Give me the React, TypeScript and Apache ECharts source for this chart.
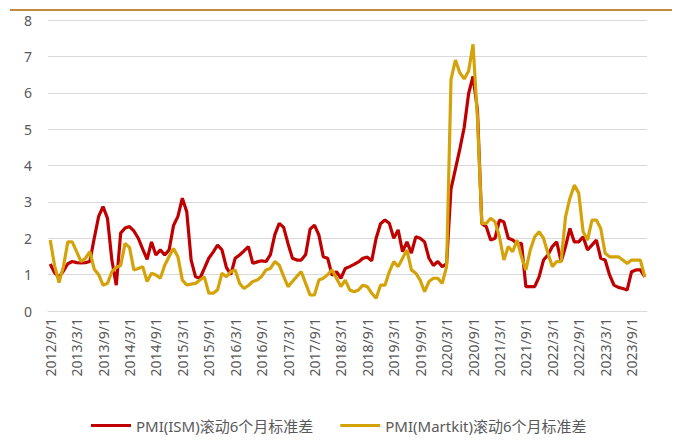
import React, { useEffect, useRef } from "react";
import * as echarts from "echarts";

// Monthly categories 2012/9/1 .. 2023/12/1
const startYear = 2012;
const startMonth = 9;
const monthCount = 136;
const months: string[] = [];
for (let k = 0; k < monthCount; k++) {
  const m = startMonth - 1 + k;
  months.push(`${startYear + Math.floor(m / 12)}/${(m % 12) + 1}/1`);
}

const ismName = "PMI(ISM)滚动6个月标准差";
const markitName = "PMI(Martkit)滚动6个月标准差";

const ismStd = [
  1.29, 1.05, 0.93, 1.1, 1.3, 1.36, 1.33, 1.32, 1.33, 1.36,
  2.0, 2.6, 2.87, 2.55, 1.4, 0.71, 2.14, 2.28, 2.32, 2.2,
  2.0, 1.7, 1.42, 1.9, 1.54, 1.68, 1.54, 1.68, 2.35, 2.6,
  3.1, 2.73, 1.4, 0.94, 0.9, 1.17, 1.45, 1.62, 1.81, 1.68,
  1.2, 1.0, 1.45, 1.54, 1.65, 1.77, 1.31, 1.35, 1.38, 1.36,
  1.55, 2.1, 2.41, 2.3, 1.85, 1.45, 1.4, 1.4, 1.55, 2.25,
  2.36, 2.09, 1.49, 1.45, 0.98, 1.08, 0.9, 1.17, 1.22, 1.28,
  1.35, 1.45, 1.48, 1.38, 2.0, 2.4, 2.5, 2.41, 2.0, 2.23,
  1.63, 1.9, 1.59, 2.04, 2.0, 1.9, 1.45, 1.25, 1.36, 1.22,
  1.3, 3.36, 3.9, 4.45, 5.05, 5.98, 6.45, 5.53, 2.4, 2.32,
  1.95, 2.0, 2.5, 2.45, 2.0, 1.95, 1.86, 1.86, 0.67, 0.67,
  0.67, 0.94, 1.4, 1.54, 1.77, 1.9, 1.36, 1.77, 2.27, 1.9,
  1.9, 2.04, 1.68, 1.81, 1.95, 1.45, 1.4, 0.99, 0.71, 0.65,
  0.62, 0.58, 1.08, 1.13, 1.13, 0.94,
];

const markitStd = [
  1.95, 1.25, 0.78, 1.22, 1.9, 1.9, 1.63, 1.36, 1.45, 1.63,
  1.15, 1.0, 0.71, 0.76, 1.08, 1.2, 1.25, 1.86, 1.75, 1.13,
  1.17, 1.22, 0.81, 1.04, 0.99, 0.9, 1.26, 1.5, 1.72, 1.49,
  0.85, 0.72, 0.74, 0.76, 0.85, 0.94, 0.49, 0.49, 0.58, 1.04,
  0.94, 1.08, 1.13, 0.76, 0.62, 0.7, 0.81, 0.85, 0.95, 1.13,
  1.17, 1.36, 1.26, 0.95, 0.67, 0.81, 0.95, 1.08, 0.76, 0.44,
  0.44, 0.85, 0.9, 1.0, 1.13, 0.9, 0.67, 0.85, 0.58, 0.53,
  0.58, 0.71, 0.67, 0.49, 0.35, 0.71, 0.71, 1.08, 1.36, 1.22,
  1.45, 1.68, 1.13, 1.04, 0.85, 0.53, 0.81, 0.9, 0.9, 0.76,
  1.22, 6.36, 6.9, 6.55, 6.38, 6.6, 7.33, 5.3, 2.41, 2.41,
  2.55, 2.45, 2.04, 1.4, 1.77, 1.63, 1.95, 1.49, 1.13, 1.68,
  2.04, 2.18, 2.0, 1.59, 1.22, 1.36, 1.36, 2.59, 3.1, 3.46,
  3.24, 2.18, 1.95, 2.5, 2.5, 2.27, 1.59, 1.49, 1.49, 1.49,
  1.4, 1.31, 1.4, 1.4, 1.4, 0.94,
];

const yMin = 0;
const yMax = 8;
const yStep = 1;

const textColor = "#595959";
const gridColor = "#d9d9d9";
const font = "'Noto Sans', 'Noto Sans CJK SC', sans-serif";

export default function App() {
  const ref = useRef<HTMLDivElement>(null);
  useEffect(() => {
    if (!ref.current) return;
    const chart = echarts.init(ref.current, undefined, { renderer: "svg" });
    chart.setOption({
      animation: false,
      backgroundColor: "#ffffff",
      textStyle: { fontFamily: font },
      graphic: [
        {
          type: "line",
          shape: { x1: 10, y1: 10, x2: 672, y2: 10 },
          style: { stroke: "#c68a3c", lineWidth: 2 },
        },
      ],
      grid: { left: 48, right: 31, top: 20, bottom: 135 },
      legend: {
        left: 86,
        top: 413,
        icon: "rect",
        itemWidth: 40,
        itemHeight: 3,
        itemGap: 27,
        textStyle: { color: textColor, fontSize: 15, fontFamily: font },
        data: [ismName, markitName],
      },
      xAxis: {
        type: "category",
        data: months,
        boundaryGap: true,
        axisLine: { lineStyle: { color: gridColor, width: 1 } },
        axisTick: {
          interval: 5,
          alignWithLabel: false,
          length: 5,
          lineStyle: { color: gridColor },
        },
        axisLabel: {
          interval: 5,
          rotate: 90,
          color: textColor,
          fontSize: 14,
          margin: 7,
          fontFamily: font,
        },
        splitLine: { show: false },
      },
      yAxis: {
        type: "value",
        min: yMin,
        max: yMax,
        interval: yStep,
        axisLine: { show: false },
        axisTick: { show: false },
        axisLabel: { color: textColor, fontSize: 14, margin: 16, fontFamily: font },
        splitLine: { lineStyle: { color: gridColor, width: 1 } },
      },
      series: [
        {
          name: ismName,
          type: "line",
          data: ismStd,
          symbol: "none",
          lineStyle: { color: "#c00000", width: 3.2 },
          itemStyle: { color: "#c00000" },
        },
        {
          name: markitName,
          type: "line",
          data: markitStd,
          symbol: "none",
          lineStyle: { color: "#d4a30a", width: 3.2 },
          itemStyle: { color: "#d4a30a" },
        },
      ],
    });
    return () => chart.dispose();
  }, []);
  return (
    <div
      ref={ref}
      style={{ position: "absolute", left: 0, top: 0, width: 678, height: 446 }}
    />
  );
}
